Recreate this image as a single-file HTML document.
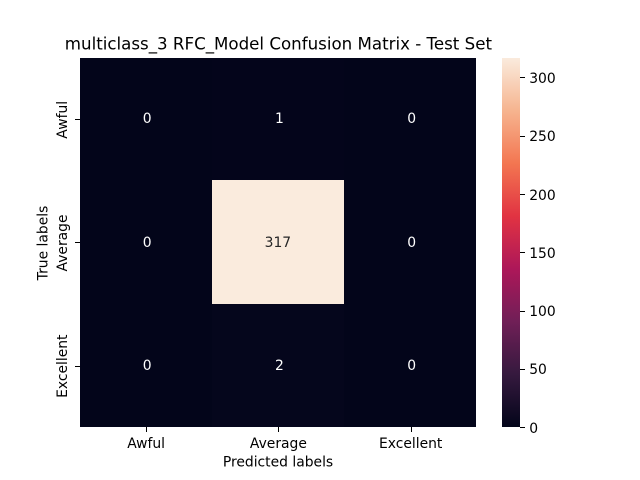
<!DOCTYPE html>
<html>
<head>
<meta charset="utf-8">
<title>Confusion Matrix</title>
<style>
html,body{margin:0;padding:0;background:#fff;width:640px;height:480px;overflow:hidden}
svg{display:block}
text{font-family:"DejaVu Sans","Liberation Sans",sans-serif;fill:#000}
</style>
</head>
<body>
<svg id="chart" xmlns="http://www.w3.org/2000/svg" width="640" height="480" viewBox="0 0 640 480">
<defs><linearGradient id="cbar-grad" x1="0" y1="1" x2="0" y2="0"></linearGradient></defs>
<text x="278.4" y="49.5" font-size="16.67" text-anchor="middle">multiclass_3 RFC_Model Confusion Matrix - Test Set</text>
<text x="278" y="466.5" font-size="13.89" text-anchor="middle">Predicted labels</text>
<text transform="translate(47.5,243) rotate(-90)" font-size="13.89" text-anchor="middle">True labels</text>
<g id="cells" shape-rendering="crispEdges"></g>
<g id="annots"></g>
<g id="xticks"></g>
<g id="yticks"></g>
<rect id="cbar" x="502" y="58" width="18" height="369" fill="url(#cbar-grad)" shape-rendering="crispEdges"></rect>
<g id="cticks"></g>
</svg>
<script>
const xCategories = ["Awful", "Average", "Excellent"];
const yCategories = ["Awful", "Average", "Excellent"];
const row0Values = [0, 1, 0];
const row1Values = [0, 317, 0];
const row2Values = [0, 2, 0];
const colorbarTicks = [0, 50, 100, 150, 200, 250, 300];

const NS = "http://www.w3.org/2000/svg";
const matrix = [row0Values, row1Values, row2Values];
const rocket = ["#03051a", "#35193e", "#701f57", "#ad1759", "#e13342", "#f37651", "#f6b48f", "#faebdd"];
const plot = { left: 80, top: 57.6, width: 396.8, height: 369.6 };
const cbarBox = { left: 502, right: 520, top: 57.6, height: 369.6 };
const allValues = matrix.flat();
const vMin = Math.min(...allValues);
const vMax = Math.max(...allValues);

function hexToRgb(h) {
  return [1, 3, 5].map(i => parseInt(h.substr(i, 2), 16));
}
function norm(v) {
  return vMax === vMin ? 0 : (v - vMin) / (vMax - vMin);
}
function colorAt(t) {
  const p = Math.max(0, Math.min(1, t)) * (rocket.length - 1);
  const i = Math.min(Math.floor(p), rocket.length - 2);
  const a = hexToRgb(rocket[i]);
  const b = hexToRgb(rocket[i + 1]);
  const f = p - i;
  return a.map((c, k) => Math.round(c + (b[k] - c) * f));
}
function xBand(i) {
  return plot.left + i * plot.width / xCategories.length;
}
function yBand(i) {
  return plot.top + i * plot.height / yCategories.length;
}
function snapX(i) {
  return Math.floor(xBand(i));
}
function snapY(i) {
  return Math.max(58, Math.floor(yBand(i)));
}
function cbarY(v) {
  return cbarBox.top + cbarBox.height * (1 - norm(v));
}
function make(tag, attrs, parent) {
  const el = document.createElementNS(NS, tag);
  for (const k in attrs) el.setAttribute(k, attrs[k]);
  parent.appendChild(el);
  return el;
}

const grad = document.getElementById("cbar-grad");
rocket.forEach((c, i) => {
  make("stop", { offset: i / (rocket.length - 1), "stop-color": c }, grad);
});

const cellsG = document.getElementById("cells");
const annotsG = document.getElementById("annots");
const bandW = plot.width / xCategories.length;
const bandH = plot.height / yCategories.length;
matrix.forEach((row, r) => {
  row.forEach((value, c) => {
    const rgb = colorAt(norm(value));
    const cell = make("rect", { x: snapX(c), y: snapY(r), width: snapX(c + 1) - snapX(c), height: snapY(r + 1) - snapY(r), fill: "rgb(" + rgb.join(",") + ")" }, cellsG);
    
    
    const lum = 0.2126 * Math.pow(rgb[0] / 255, 2.2) + 0.7152 * Math.pow(rgb[1] / 255, 2.2) + 0.0722 * Math.pow(rgb[2] / 255, 2.2);
    const nudge = String(value).length === 1 ? 1 : -0.5;
    const label = make("text", { x: xBand(c) + bandW / 2 + nudge, y: Math.round(yBand(r) + bandH / 2 + 4.1), "font-size": 13.89, "text-anchor": "middle" }, annotsG);
    label.style.fill = lum > 0.408 ? "#262626" : "#ffffff";
    label.textContent = value;
    
    
  });
});

const xG = document.getElementById("xticks");
xCategories.forEach((name, i) => {
  const x = xBand(i) + bandW / 2;
  const px = Math.round(x) + 0.5;
  const bottom = plot.top + plot.height;
  const tick = make("line", { x1: px, x2: px, y1: 427, y2: 432, stroke: "#000", "stroke-width": 1, "shape-rendering": "crispEdges" }, xG);
  
  
  const t = make("text", { x: x, y: bottom + 21, "font-size": 13.89, "text-anchor": "middle" }, xG);
  t.textContent = name;
  
  
});

const yG = document.getElementById("yticks");
yCategories.forEach((name, i) => {
  const y = yBand(i) + bandH / 2;
  const py = Math.round(y) + 0.5;
  const tick = make("line", { x1: plot.left - 5, x2: plot.left, y1: py, y2: py, stroke: "#000", "stroke-width": 1, "shape-rendering": "crispEdges" }, yG);
  
  
  const t = make("text", { transform: "translate(67," + (y + 0.6) + ") rotate(-90)", "font-size": 13.89, "text-anchor": "middle" }, yG);
  t.textContent = name;
  
  
});

const cG = document.getElementById("cticks");
colorbarTicks.forEach(v => {
  const y = cbarY(v);
  const py = Math.round(y) + 0.5;
  const tick = make("line", { x1: cbarBox.right, x2: cbarBox.right + 5, y1: py, y2: py, stroke: "#000", "stroke-width": 1, "shape-rendering": "crispEdges" }, cG);
  
  
  const t = make("text", { x: cbarBox.right + 9.2, y: Math.round(y + 5.5), "font-size": 13.89 }, cG);
  t.textContent = v;
  
  
});
</script>
</body>
</html>
